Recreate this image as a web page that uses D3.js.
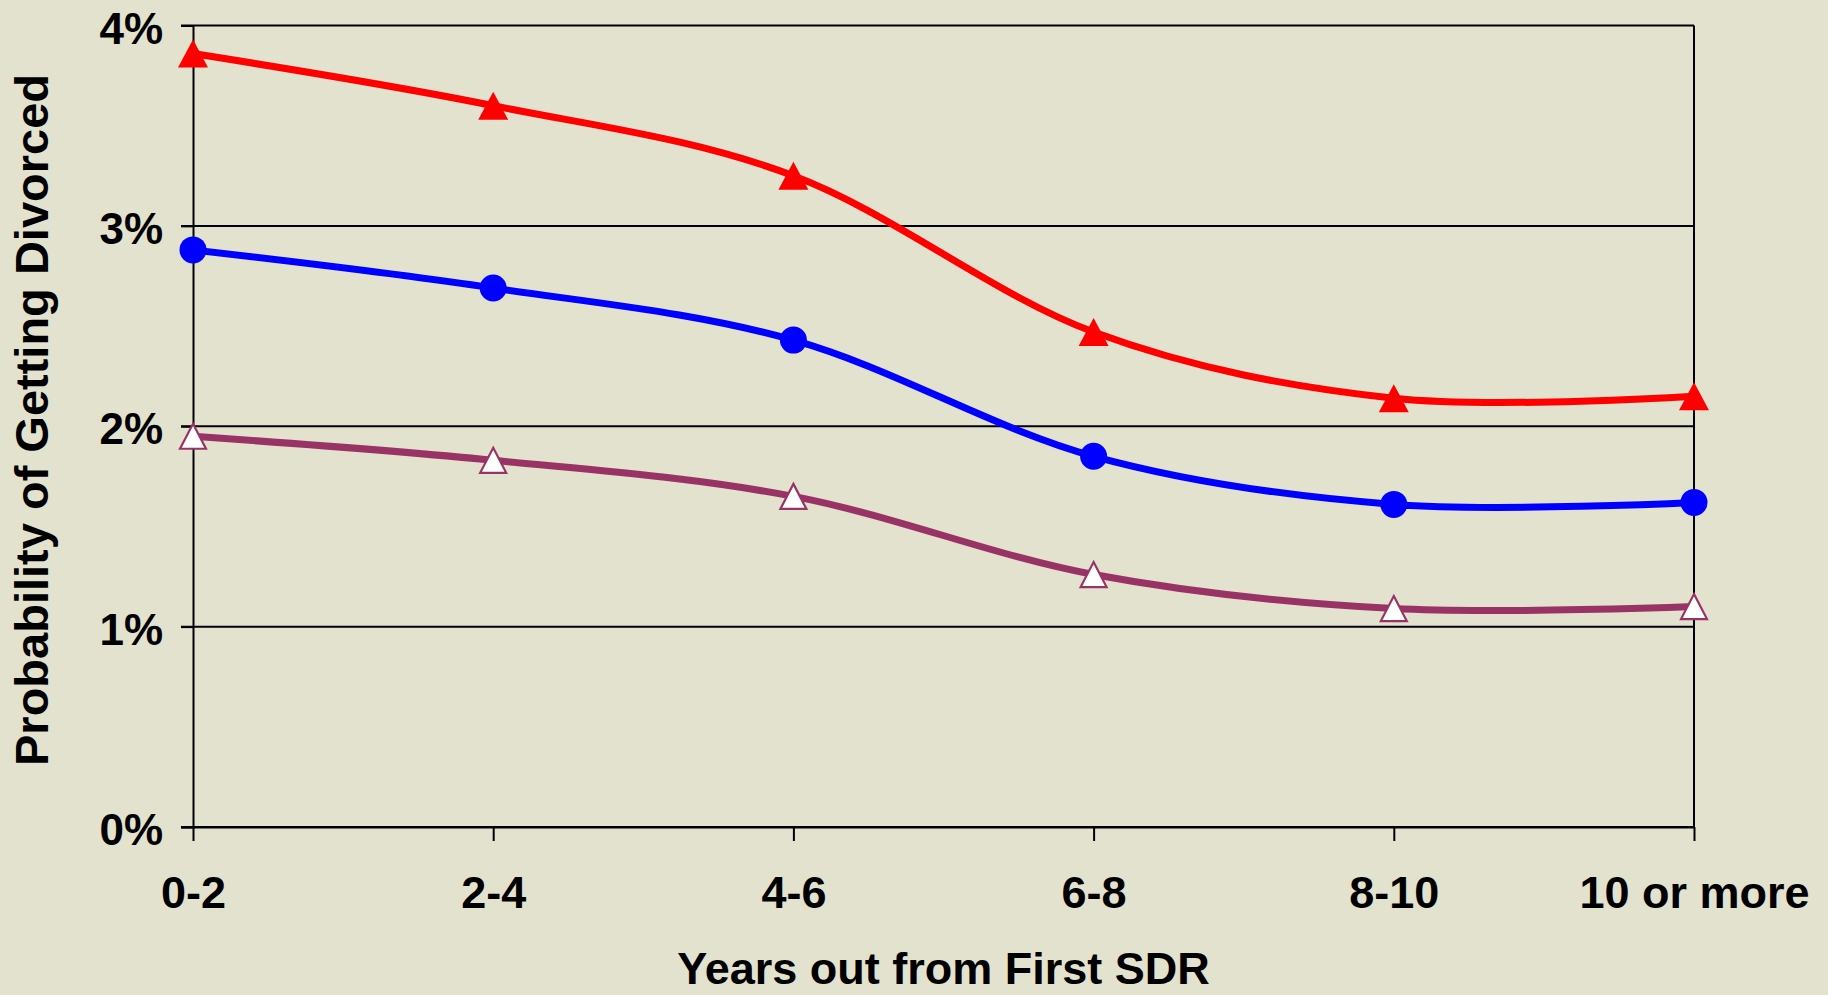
<!DOCTYPE html>
<html>
<head>
<meta charset="utf-8">
<script src="https://cdn.jsdelivr.net/npm/d3@7"></script>
<style>
  html, body { margin: 0; padding: 0; background: #e3e2cf; }
  svg { display: block; }
  text { font-family: "Liberation Sans", Arial, sans-serif; font-weight: bold; fill: #000; }
</style>
</head>
<body>
<svg id="chart" width="1828" height="995"></svg>
<script>
// categories along the bottom
var categories = ["0-2", "2-4", "4-6", "6-8", "8-10", "10 or more"];

// probability of divorce
var redValues    = [0.0386, 0.0360, 0.0325, 0.0247, 0.0214, 0.0215];
var blueValues   = [0.0288, 0.0269, 0.0243, 0.0185, 0.0161, 0.0162];
var purpleValues = [0.0195, 0.0183, 0.0165, 0.0126, 0.0109, 0.0110];

var yTicks = [0, 0.01, 0.02, 0.03, 0.04];

var series = [
	{ id: "purple", values: purpleValues, color: "#993366", marker: "openTriangle" },
	{ id: "blue",   values: blueValues,   color: "#0000ff", marker: "circle" },
	{ id: "red",    values: redValues,    color: "#ff0000", marker: "triangle" }
];

var svg = d3.select("#chart");

var plotLeft = 193, plotRight = 1694, plotTop = 25.5, plotBottom = 827;

var xscale = d3.scalePoint()
	.domain(categories)
	.range([plotLeft, plotRight]);

var yscale = d3.scaleLinear()
	.domain([0, 0.04])
	.range([plotBottom, plotTop]);

// horizontal gridlines
svg.append("g")
	.selectAll("line")
	.data(yTicks)
	.enter()
	.append("line")
	.attr("x1", plotLeft - 12)
	.attr("x2", plotRight)
	.attr("y1", function(d) { return yscale(d); })
	.attr("y2", function(d) { return yscale(d); })
	.attr("stroke", "#000")
	.attr("stroke-width", 2);

// right border of plot area
svg.append("line")
	.attr("x1", plotRight).attr("x2", plotRight)
	.attr("y1", plotTop).attr("y2", plotBottom)
	.attr("stroke", "#000")
	.attr("stroke-width", 2);

// y axis
var yAxis = svg.append("g")
	.attr("transform", "translate(" + plotLeft + ",0)")
	.call(d3.axisLeft(yscale)
		.tickValues(yTicks)
		.tickSize(12)
		.tickPadding(18)
		.tickFormat(d3.format(".0%")));

yAxis.select(".domain").attr("stroke", "#000").attr("stroke-width", 2);
yAxis.selectAll(".tick line").attr("stroke", "#000").attr("stroke-width", 2);
yAxis.selectAll(".tick text")
	.attr("dy", "0.4em")
	.style("font-size", "44px")
	.style("font-family", "Liberation Sans, Arial, sans-serif")
	.style("font-weight", "bold");

// x axis
var xAxis = svg.append("g")
	.attr("transform", "translate(0," + plotBottom + ")")
	.call(d3.axisBottom(xscale)
		.tickSize(14)
		.tickPadding(35)
		.tickSizeOuter(0));

xAxis.select(".domain").attr("stroke", "#000").attr("stroke-width", 2);
xAxis.selectAll(".tick line").attr("stroke", "#000").attr("stroke-width", 2);
xAxis.selectAll(".tick text")
	.attr("dy", "0.71em")
	.style("font-size", "45px")
	.style("font-family", "Liberation Sans, Arial, sans-serif")
	.style("font-weight", "bold");

// axis titles
svg.append("text")
	.attr("x", (plotLeft + plotRight) / 2)
	.attr("y", 984)
	.attr("text-anchor", "middle")
	.style("font-size", "45px")
	.text("Years out from First SDR");

svg.append("text")
	.attr("transform", "translate(48," + 420 + ") rotate(-90)")
	.attr("text-anchor", "middle")
	.style("font-size", "47px")
	.text("Probability of Getting Divorced");

// lines
var line = d3.line()
	.x(function(d, i) { return xscale(categories[i]); })
	.y(function(d) { return yscale(d); })
	.curve(d3.curveCardinal.tension(0));

var groups = svg.selectAll(".serie")
	.data(series)
	.enter()
	.append("g")
	.classed("serie", true);

groups.append("path")
	.attr("d", function(s) { return line(s.values); })
	.attr("fill", "none")
	.attr("stroke", function(s) { return s.color; })
	.attr("stroke-width", 7);

function trianglePath(w, h) {
	return "M0," + (-h / 2) + "L" + (w / 2) + "," + (h / 2) + "L" + (-w / 2) + "," + (h / 2) + "Z";
}

groups.each(function(s) {
	var g = d3.select(this);
	var pts = g.selectAll(".marker")
		.data(s.values)
		.enter();
	if (s.marker == "circle") {
		pts.append("circle")
			.attr("cx", function(d, i) { return xscale(categories[i]); })
			.attr("cy", function(d) { return yscale(d); })
			.attr("r", 13.5)
			.attr("fill", s.color);
	} else if (s.marker == "triangle") {
		pts.append("path")
			.attr("transform", function(d, i) {
				return "translate(" + xscale(categories[i]) + "," + yscale(d) + ")";
			})
			.attr("d", trianglePath(30, 28))
			.attr("fill", s.color);
	} else {
		pts.append("path")
			.attr("transform", function(d, i) {
				return "translate(" + xscale(categories[i]) + "," + yscale(d) + ")";
			})
			.attr("d", trianglePath(26, 25))
			.attr("fill", "#fff")
			.attr("stroke", s.color)
			.attr("stroke-width", 2.2);
	}
});
</script>
</body>
</html>
